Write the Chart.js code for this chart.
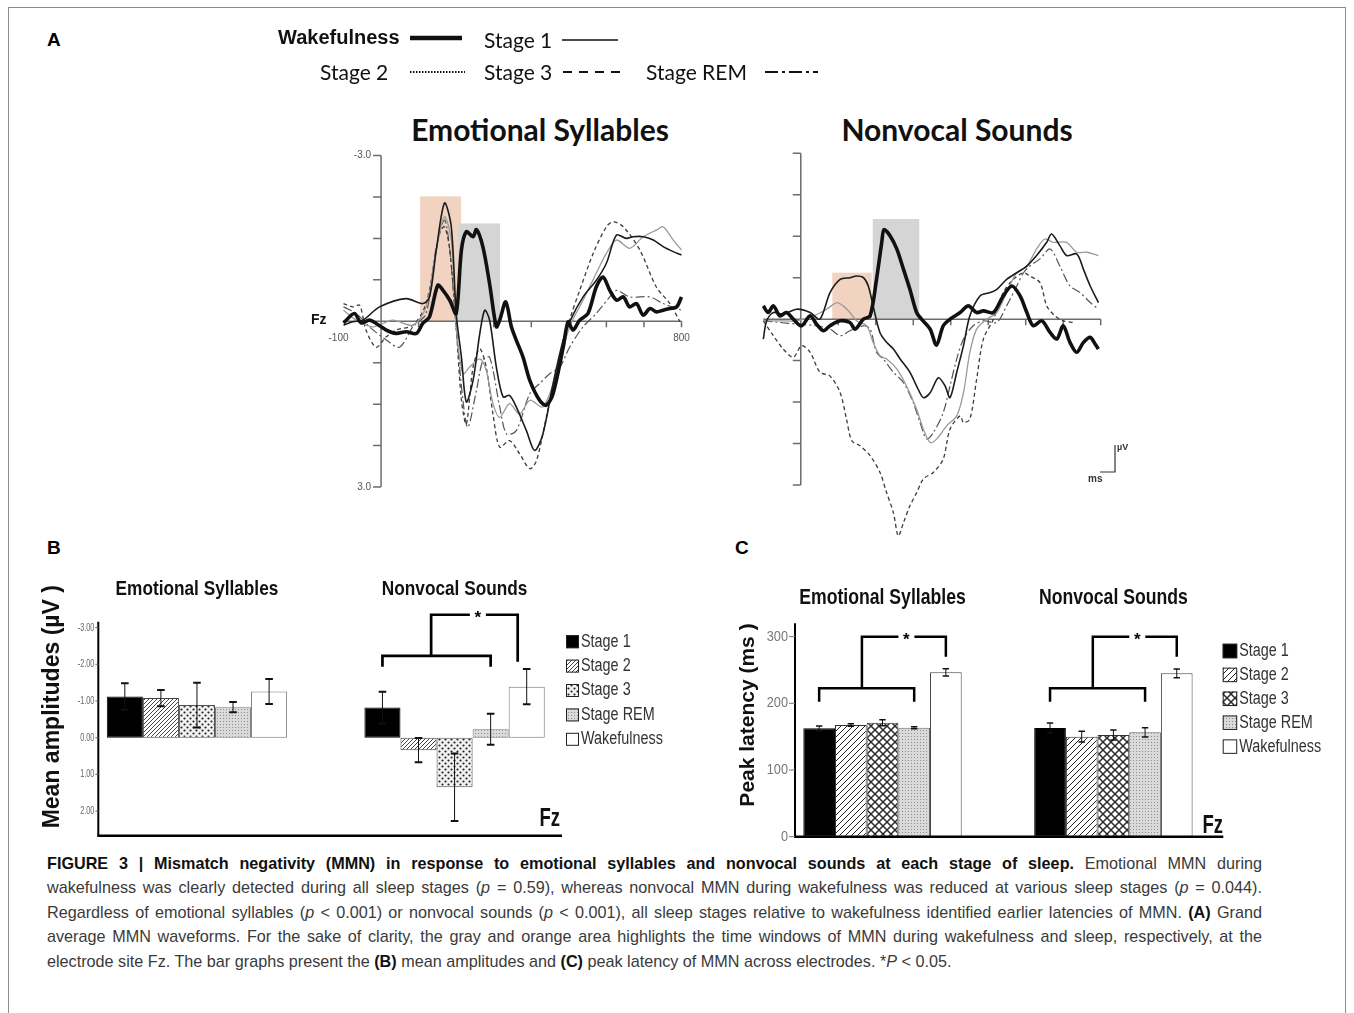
<!DOCTYPE html>
<html>
<head>
<meta charset="utf-8">
<title>Figure 3 - MMN across sleep stages</title>
<script src="https://cdn.jsdelivr.net/npm/chart.js@4.4.1/dist/chart.umd.min.js"></script>
<style>
  html, body { margin: 0; padding: 0; background: #fff; }
  body { position: relative; width: 1354px; height: 1013px; overflow: hidden; font-family: 'Liberation Sans', Arial, sans-serif; }
  #frame { position: absolute; left: 8px; top: 7px; width: 1336px; height: 1030px; border: 1px solid #8c8c8c; }
  canvas { position: absolute; }
  .panel { position: absolute; font-weight: bold; font-size: 19px; color: #000; }
  .title { position: absolute; font-family: Lato, sans-serif; font-weight: bold; font-size: 30px; transform: translate(-50%, -50%); white-space: nowrap; color: #111; }
  #caption { position: absolute; left: 47px; top: 851px; font-size: 16.2px; line-height: 24.4px; color: #3a3a3a; transform-origin: 0 0; }
  #caption div { white-space: nowrap; }
  #caption .j { text-align: justify; text-align-last: justify; }
  #caption b { color: #111; }
</style>
</head>
<body>
<div id="frame"></div>
<div class="panel" style="left:47px;top:29px">A</div>
<div class="panel" style="left:47px;top:537px">B</div>
<div class="panel" style="left:735px;top:537px">C</div>
<div class="title" style="left:540px;top:129px">Emotional Syllables</div>
<div class="title" style="left:957px;top:129px">Nonvocal Sounds</div>

<canvas id="erpEmo" width="570" height="500" style="left:260px;top:15px"></canvas>
<canvas id="erpNon" width="440" height="460" style="left:720px;top:100px"></canvas>
<canvas id="ampChart" width="670" height="280" style="left:30px;top:570px"></canvas>
<canvas id="latChart" width="630" height="280" style="left:715px;top:570px"></canvas>

<div id="caption">
<div class="cl"><b>FIGURE 3 | Mismatch negativity (MMN) in response to emotional syllables and nonvocal sounds at each stage of sleep.</b> Emotional MMN during</div>
<div class="cl">wakefulness was clearly detected during all sleep stages (<i>p</i> = 0.59), whereas nonvocal MMN during wakefulness was reduced at various sleep stages (<i>p</i> = 0.044).</div>
<div class="cl">Regardless of emotional syllables (<i>p</i> &lt; 0.001) or nonvocal sounds (<i>p</i> &lt; 0.001), all sleep stages relative to wakefulness identified earlier latencies of MMN. <b>(A)</b> Grand</div>
<div class="cl">average MMN waveforms. For the sake of clarity, the gray and orange area highlights the time windows of MMN during wakefulness and sleep, respectively, at the</div>
<div class="last">electrode site Fz. The bar graphs present the <b>(B)</b> mean amplitudes and <b>(C)</b> peak latency of MMN across electrodes. *<i>P</i> &lt; 0.05.</div>
</div>

<script>
// ---------- Panel A: grand average waveforms, [time ms, amplitude µV] ----------
const erpLabels = ['Wakefulness', 'Stage 1', 'Stage 2', 'Stage 3', 'Stage REM'];
const erpXTicks = [0, 100, 200, 300, 400, 500, 600, 700, 800];
const erpYTicks = [-3, -2.25, -1.5, -0.75, 0, 0.75, 1.5, 2.25, 3];

const emoWake = [[-100,0.03],[-71,-0.14],[-53,0.03],[-31,-0.02],[-13,0.04],[14,0.16],[40,0.22],[67,0.19],[94,0.22],[111,0.04],[129,-0.08],[151,-0.65],[165,-0.56],[183,-0.38],[200,-0.14],[214,-1.29],[227,-1.62],[245,-1.53],[254,-1.66],[271,-1.35],[289,-0.68],[307,0.10],[316,-0.02],[332,-0.35],[347,0.10],[360,0.34],[378,0.65],[396,1.07],[422,1.43],[440,1.52],[458,1.31],[485,0.47],[498,0.01],[511,0.16],[529,-0.02],[551,-0.14],[573,-0.62],[591,-0.80],[609,-0.56],[627,-0.38],[645,-0.44],[662,-0.26],[680,-0.32],[698,-0.11],[716,-0.23],[733,-0.17],[751,-0.20],[769,-0.23],[787,-0.26],[800,-0.44]];
const emoStage1 = [[-100,0.07],[-75,0.01],[-48,-0.02],[-4,-0.26],[67,-0.41],[111,-0.32],[129,-0.44],[147,-1.29],[169,-2.14],[187,-1.71],[200,-0.14],[214,0.65],[227,1.46],[245,1.07],[263,0.22],[276,-0.20],[289,-0.02],[307,0.83],[325,1.37],[342,1.34],[360,1.55],[387,1.98],[409,2.34],[431,2.04],[458,1.13],[485,0.34],[502,0.01],[538,-0.44],[573,-0.74],[600,-1.05],[627,-1.56],[653,-1.50],[671,-1.53],[698,-1.53],[725,-1.47],[751,-1.35],[778,-1.26],[800,-1.20]];
const emoStage2 = [[-100,-0.20],[-66,-0.02],[-22,0.10],[31,-0.02],[85,0.07],[120,-0.26],[147,-1.29],[169,-1.89],[187,-1.47],[200,0.10],[218,0.95],[236,0.83],[263,0.68],[280,0.89],[298,1.49],[316,1.74],[342,1.49],[369,1.68],[396,1.43],[431,1.55],[467,0.95],[502,0.10],[538,-0.38],[573,-0.87],[600,-1.23],[627,-1.47],[662,-1.32],[698,-1.53],[733,-1.65],[751,-1.71],[778,-1.47],[800,-1.29]];
const emoStage3 = [[-100,-0.32],[-75,-0.26],[-57,-0.29],[-40,0.16],[-13,0.47],[14,0.28],[40,0.16],[85,0.07],[120,-0.32],[156,-1.59],[169,-1.71],[183,-1.29],[200,0.10],[214,1.43],[227,1.86],[245,0.83],[263,0.50],[280,0.83],[298,1.68],[316,2.28],[342,2.16],[369,2.40],[396,2.67],[414,2.52],[440,1.74],[467,0.95],[502,-0.02],[529,-0.56],[565,-1.23],[600,-1.71],[618,-1.80],[645,-1.71],[689,-1.29],[733,-0.62],[769,-0.32],[796,0.01]];
const emoRem = [[-100,-0.26],[-66,-0.14],[-31,0.10],[14,0.34],[49,0.47],[85,0.10],[120,-0.14],[147,-1.35],[169,-1.83],[183,-1.29],[200,0.10],[218,1.43],[231,1.92],[254,1.25],[271,0.71],[289,0.65],[316,1.55],[334,2.04],[360,1.98],[396,1.31],[422,1.13],[449,0.95],[476,0.83],[502,0.47],[538,0.10],[573,-0.14],[609,-0.44],[627,-0.56],[662,-0.44],[716,-0.44],[751,-0.32],[800,-0.20]];

const nonWake = [[-100,-0.24],[-87,-0.12],[-73,-0.24],[-56,-0.06],[-38,-0.12],[-20,0],[2,0.12],[25,-0.06],[42,0.09],[60,0.21],[78,0.12],[105,0.03],[131,0.06],[145,0.18],[167,0],[185,-0.06],[202,-0.72],[216,-1.39],[222,-1.62],[238,-1.51],[256,-1.27],[274,-0.90],[291,-0.54],[309,-0.12],[322,0],[345,0.18],[362,0.47],[380,0.12],[398,0],[425,-0.12],[447,-0.24],[469,-0.12],[487,-0.15],[514,-0.12],[540,-0.42],[563,-0.60],[585,-0.42],[603,-0.12],[620,0.12],[643,0.03],[665,0.24],[683,0.36],[700,0.12],[718,0.42],[736,0.60],[754,0.42],[772,0.33],[785,0.45],[794,0.54]];
const nonStage1 = [[-100,0.36],[-91,0.03],[-73,-0.12],[-47,-0.09],[-11,-0.18],[25,-0.12],[51,0],[78,-0.48],[105,-0.72],[131,-0.75],[149,-0.78],[167,-0.75],[180,-0.60],[193,-0.24],[211,0.24],[229,0.42],[247,0.54],[265,0.72],[291,0.96],[309,1.21],[327,1.42],[345,1.33],[367,1.06],[385,1.21],[398,1.42],[416,0.96],[434,0.48],[451,-0.06],[478,-0.42],[505,-0.48],[523,-0.54],[549,-0.72],[576,-0.84],[603,-0.96],[629,-1.15],[656,-1.39],[669,-1.54],[691,-1.33],[709,-1.15],[736,-1.18],[754,-0.90],[772,-0.60],[794,-0.30]];
const nonStage2 = [[-100,0.03],[-56,0.03],[-11,0.03],[33,-0.06],[69,-0.18],[96,-0.30],[113,-0.24],[131,-0.12],[149,0.03],[176,0.12],[193,0.42],[211,0.66],[229,0.72],[256,0.90],[282,1.21],[309,1.63],[327,1.99],[345,2.23],[362,2.17],[389,1.93],[416,1.75],[434,1.33],[451,0.60],[469,0.18],[496,0],[523,-0.12],[549,-0.48],[576,-0.84],[603,-0.96],[629,-1.27],[651,-1.45],[674,-1.39],[709,-1.39],[736,-1.21],[763,-1.21],[794,-1.15]];
const nonStage3 = [[-100,0.03],[-73,0.30],[-47,0.54],[-20,0.69],[2,0.48],[25,0.60],[51,0.96],[78,1.03],[105,1.33],[122,1.81],[136,2.20],[158,2.29],[185,2.47],[211,2.77],[229,3.14],[247,3.50],[260,3.92],[274,3.68],[291,3.38],[309,3.14],[327,2.89],[354,2.77],[380,2.53],[398,1.99],[425,1.75],[434,1.87],[451,1.81],[469,1.09],[487,0.36],[514,0],[540,-0.48],[567,-0.72],[594,-0.84],[611,-0.78],[638,-0.66],[656,-0.24],[678,-0.06],[700,0.03],[727,0.06]];
const nonRem = [[-100,0.03],[-56,0.06],[-11,0.09],[42,0.12],[78,0.18],[105,0.30],[131,0.21],[167,0.12],[185,0.18],[202,0.60],[220,0.72],[247,0.96],[274,1.15],[300,1.51],[318,1.87],[336,2.17],[354,2.05],[380,1.69],[398,1.21],[416,0.72],[434,0.36],[460,0.12],[487,0.03],[523,0.06],[549,-0.24],[576,-0.60],[594,-0.84],[611,-0.96],[638,-1.09],[665,-1.27],[691,-0.96],[718,-0.60],[745,-0.48],[772,-0.30],[794,-0.18]];

// MMN windows: [start ms, end ms, top µV]
const emoSleepWin = [104, 213, -2.26];
const emoWakeWin = [205, 317, -1.77];
const nonSleepWin = [84, 189, -0.84];
const nonWakeWin = [192, 316, -1.81];

// ---------- Panels B and C ----------
const groups = ['Emotional Syllables', 'Nonvocal Sounds'];
const stages = ['Stage 1', 'Stage 2', 'Stage 3', 'Stage REM', 'Wakefulness'];
const ampEmo = [-1.12, -1.08, -0.89, -0.83, -1.26];
const ampEmoErr = [0.36, 0.22, 0.61, 0.14, 0.34];
const ampNon = [-0.82, 0.34, 1.35, -0.23, -1.39];
const ampNonErr = [0.43, 0.33, 0.92, 0.42, 0.48];
const latEmo = [162.5, 167.5, 171, 163.5, 246.5];
const latEmoErr = [3.5, 2, 4.5, 1.5, 5.5];
const latNon = [163, 150, 152.5, 156.5, 245];
const latNonErr = [7.5, 8, 7.5, 7, 6.5];
const ampTicks = [-3, -2, -1, 0, 1, 2];
const latTicks = [0, 100, 200, 300];

// line looks of the five waveforms (same order as erpLabels)
const erpStyles = [
  { borderColor: '#111', borderWidth: 3.6 },
  { borderColor: '#1c1c1c', borderWidth: 1.6 },
  { borderColor: '#9a9a9a', borderWidth: 1.3 },
  { borderColor: '#3c3c3c', borderWidth: 1.3, borderDash: [4, 3] },
  { borderColor: '#555', borderWidth: 1.2, borderDash: [9, 3, 2, 3] }
];

function squeezeText(ctx, text, x, y, font, sx, align, color) {
  ctx.save();
  ctx.translate(x, y);
  ctx.scale(sx, 1);
  ctx.font = font;
  ctx.fillStyle = color;
  ctx.textAlign = align;
  ctx.textBaseline = 'middle';
  ctx.fillText(text, 0, 0);
  ctx.restore();
}

const erpDecor = {
  id: 'erpDecor',
  beforeDatasetsDraw(chart, args, o) {
    const { ctx } = chart;
    const x = chart.scales.x, y = chart.scales.y;
    const x0 = x.getPixelForValue(0), y0 = y.getPixelForValue(0);
    ctx.save();
    o.windows.forEach(w => {
      const x1 = x.getPixelForValue(w.span[0]), x2 = x.getPixelForValue(w.span[1]);
      const y1 = y.getPixelForValue(w.span[2]);
      ctx.fillStyle = w.color;
      ctx.fillRect(x1, y1, x2 - x1, y0 - y1);
    });
    ctx.strokeStyle = '#6c6c6c';
    ctx.lineWidth = 1.5;
    ctx.beginPath();
    ctx.moveTo(x0, y.getPixelForValue(-3));
    ctx.lineTo(x0, y.getPixelForValue(3));
    erpYTicks.forEach(v => {
      const py = y.getPixelForValue(v);
      ctx.moveTo(x0 - 8, py);
      ctx.lineTo(x0, py);
    });
    ctx.moveTo(x.getPixelForValue(-100), y0);
    ctx.lineTo(x.getPixelForValue(800), y0);
    erpXTicks.forEach(t => {
      const px = x.getPixelForValue(t);
      ctx.moveTo(px, y0);
      ctx.lineTo(px, y0 + 6);
    });
    ctx.stroke();

    if (o.labels) {
      squeezeText(ctx, '-3.0', x0 - 10, y.getPixelForValue(-3), '10px Liberation Sans', 1, 'right', '#555');
      squeezeText(ctx, '3.0', x0 - 10, y.getPixelForValue(3), '10px Liberation Sans', 1, 'right', '#555');
      squeezeText(ctx, '-100', x.getPixelForValue(-100) - 5, y0 + 17, '10px Liberation Sans', 1, 'center', '#555');
      squeezeText(ctx, '800', x.getPixelForValue(800), y0 + 17, '10px Liberation Sans', 1, 'center', '#555');
      squeezeText(ctx, 'Fz', x.getPixelForValue(-100) - 17, y0 - 1, 'bold 14px Liberation Sans', 1, 'right', '#111');
    }
    ctx.restore();
  },
  afterDraw(chart, args, o) {
    const { ctx } = chart;
    ctx.save();
    if (o.legend) {
      o.legend.forEach(item => {
        const ds = chart.data.datasets[item.i];
        const font = item.bold ? 'bold 20px Liberation Sans' : '21px Lato';
        squeezeText(ctx, ds.label, item.tx, item.ty, font, 1, 'left', '#111');
        ctx.strokeStyle = '#111';
        ctx.lineWidth = item.w;
        ctx.setLineDash(item.dash);
        ctx.beginPath();
        ctx.moveTo(item.x1, item.ly);
        ctx.lineTo(item.x2, item.ly);
        ctx.stroke();
      });
      ctx.setLineDash([]);
    }
    if (o.scaleBar) {
      const s = o.scaleBar;
      ctx.strokeStyle = '#333';
      ctx.lineWidth = 1.2;
      ctx.beginPath();
      ctx.moveTo(s.x, s.y);
      ctx.lineTo(s.x, s.y + s.h);
      ctx.lineTo(s.x - s.w, s.y + s.h);
      ctx.stroke();
      squeezeText(ctx, 'µV', s.x + 2, s.y + 3, 'bold 9px Liberation Sans', 1, 'left', '#333');
      squeezeText(ctx, 'ms', s.x - s.w - 12, s.y + s.h + 7, 'bold 10px Liberation Sans', 1, 'left', '#333');
    }
    ctx.restore();
  }
};

function makeErp(id, series, windows, padding, extra) {
  const toPoints = arr => arr.map(([t, v]) => ({ x: t, y: v }));
  return new Chart(document.getElementById(id), {
    type: 'line',
    data: {
      datasets: series.map((s, i) => Object.assign({
        label: erpLabels[i],
        data: toPoints(s),
        pointRadius: 0,
        tension: 0.3,
        fill: false,
        clip: false
      }, erpStyles[i]))
    },
    options: {
      responsive: false,
      animation: false,
      events: [],
      layout: { padding },
      plugins: {
        legend: { display: false },
        tooltip: { enabled: false },
        erpDecor: Object.assign({ windows }, extra)
      },
      scales: {
        x: { type: 'linear', display: false, min: -100, max: 800 },
        y: { type: 'linear', display: false, min: -3, max: 3, reverse: true }
      }
    },
    plugins: [erpDecor]
  });
}

makeErp('erpEmo', [emoWake, emoStage1, emoStage2, emoStage3, emoRem],
  [{ span: emoSleepWin, color: '#f2d3c1' }, { span: emoWakeWin, color: '#d5d5d5' }],
  { left: 83.5, right: 148.5, top: 140.5, bottom: 28 },
  {
    labels: true,
    legend: [
      { i: 0, bold: true, tx: 18, ty: 23, x1: 150, x2: 202, ly: 23, w: 4.5, dash: [] },
      { i: 1, tx: 224, ty: 26, x1: 302, x2: 358, ly: 25, w: 1.5, dash: [] },
      { i: 2, tx: 60, ty: 58, x1: 150, x2: 205, ly: 57, w: 1.8, dash: [1.5, 1.5] },
      { i: 3, tx: 224, ty: 58, x1: 303, x2: 360, ly: 57, w: 2, dash: [9, 7] },
      { i: 4, tx: 386, ty: 58, x1: 505, x2: 558, ly: 57, w: 2, dash: [13, 4, 3, 4] }
    ]
  });

makeErp('erpNon', [nonWake, nonStage1, nonStage2, nonStage3, nonRem],
  [{ span: nonSleepWin, color: '#f2d3c1' }, { span: nonWakeWin, color: '#d5d5d5' }],
  { left: 43.3, right: 59.3, top: 53.3, bottom: 75 },
  { labels: false, scaleBar: { x: 395, y: 345, h: 27, w: 15 } });

// ---------- bar fills ----------
function tile(ctx, w, h, draw) {
  const c = document.createElement('canvas');
  c.width = w; c.height = h;
  const g = c.getContext('2d');
  draw(g, w, h);
  return ctx.createPattern(c, 'repeat');
}

function stageFills(canvasId, dense) {
  const ctx = document.getElementById(canvasId).getContext('2d');
  const hatch = tile(ctx, dense ? 4 : 6, dense ? 4 : 6, (g, w, h) => {
    g.fillStyle = '#fff'; g.fillRect(0, 0, w, h);
    g.strokeStyle = dense ? '#444' : '#222'; g.lineWidth = 1;
    g.beginPath();
    g.moveTo(0, h); g.lineTo(w, 0);
    g.moveTo(-1, 1); g.lineTo(1, -1);
    g.moveTo(w - 1, h + 1); g.lineTo(w + 1, h - 1);
    g.stroke();
  });
  const dots = dense
    ? tile(ctx, 6, 6, (g) => {
        g.fillStyle = '#f2f2f2'; g.fillRect(0, 0, 6, 6);
        g.fillStyle = '#222';
        g.beginPath(); g.arc(1.5, 1.5, 1.1, 0, Math.PI * 2); g.arc(4.5, 4.5, 1.1, 0, Math.PI * 2); g.fill();
      })
    : tile(ctx, 8, 8, (g) => {
        g.fillStyle = '#fff'; g.fillRect(0, 0, 8, 8);
        g.strokeStyle = '#2a2a2a'; g.lineWidth = 1.5;
        g.beginPath();
        g.moveTo(0, 0); g.lineTo(8, 8); g.moveTo(8, 0); g.lineTo(0, 8);
        g.stroke();
      });
  const stipple = tile(ctx, 3, 3, (g) => {
    g.fillStyle = '#dadada'; g.fillRect(0, 0, 3, 3);
    g.fillStyle = '#8c8c8c'; g.fillRect(1, 1, 1, 1);
  });
  return ['#000', hatch, dots, stipple, '#fff'];
}

const barDecor = {
  id: 'barDecor',
  afterDatasetsDraw(chart, args, o) {
    const { ctx, chartArea: a } = chart;
    const x = chart.scales.x, y = chart.scales.y;
    ctx.save();

    // error bars
    chart.data.datasets.forEach((ds, i) => {
      chart.getDatasetMeta(i).data.forEach((bar, j) => {
        const v = ds.data[j].y, e = ds.err[j];
        const y1 = y.getPixelForValue(v - e), y2 = y.getPixelForValue(v + e);
        ctx.strokeStyle = '#111';
        ctx.lineWidth = 1;
        ctx.beginPath(); ctx.moveTo(bar.x, y1); ctx.lineTo(bar.x, y2); ctx.stroke();
        ctx.lineWidth = o.capWidth;
        ctx.beginPath();
        ctx.moveTo(bar.x - o.cap, y1); ctx.lineTo(bar.x + o.cap, y1);
        ctx.moveTo(bar.x - o.cap, y2); ctx.lineTo(bar.x + o.cap, y2);
        ctx.stroke();
      });
    });

    // axes
    ctx.strokeStyle = '#000';
    ctx.lineWidth = 2;
    ctx.beginPath(); ctx.moveTo(a.left, a.top); ctx.lineTo(a.left, a.bottom); ctx.stroke();
    ctx.lineWidth = 2.6;
    ctx.beginPath(); ctx.moveTo(a.left - 1, a.bottom); ctx.lineTo(a.right, a.bottom); ctx.stroke();
    o.ticks.forEach(v => {
      const py = y.getPixelForValue(v);
      ctx.strokeStyle = o.tickColor;
      ctx.lineWidth = 1;
      ctx.beginPath(); ctx.moveTo(a.left - o.tickLen, py); ctx.lineTo(a.left, py); ctx.stroke();
      squeezeText(ctx, o.tickFormat(v), a.left - o.tickLen - 1, py, o.tickFont, o.tickScale, 'right', o.tickColor);
    });

    // group titles
    groups.forEach((g, i) => squeezeText(ctx, g, x.getPixelForValue(i), o.titleY, o.titleFont, o.titleScale, 'center', '#111'));

    // significance brackets
    const b = o.bracket;
    b.groups.forEach(j => {
      const bar = i => chart.getDatasetMeta(i).data[j];
      const xa = bar(0).x, xb = bar(3).x;
      const xw = bar(4).x + b.dropShift * bar(4).width;
      const xs = xa + (xb - xa) * b.stem;
      const xStar = xs + (xw - xs) * b.star;
      const yArm = y.getPixelForValue(b.arm), yTick = y.getPixelForValue(b.tick);
      const yTop = y.getPixelForValue(b.top), yDrop = y.getPixelForValue(b.drop);
      ctx.strokeStyle = '#000';
      ctx.lineWidth = b.width;
      ctx.lineJoin = 'miter';
      ctx.beginPath();
      ctx.moveTo(xa, yTick); ctx.lineTo(xa, yArm); ctx.lineTo(xb, yArm); ctx.lineTo(xb, yTick);
      ctx.moveTo(xs, yArm); ctx.lineTo(xs, yTop); ctx.lineTo(xStar - 8, yTop);
      ctx.moveTo(xStar + 8, yTop); ctx.lineTo(xw, yTop); ctx.lineTo(xw, yDrop);
      ctx.stroke();
      squeezeText(ctx, '*', xStar, yTop + 4, 'bold 17px Liberation Sans', 1, 'center', '#000');
    });

    // legend
    const lg = o.legend;
    chart.data.datasets.forEach((ds, i) => {
      const cy = lg.y + i * lg.dy;
      ctx.fillStyle = ds.backgroundColor;
      ctx.fillRect(lg.x, cy - lg.size / 2, lg.size, lg.size);
      ctx.strokeStyle = '#222';
      ctx.lineWidth = 1;
      ctx.strokeRect(lg.x + 0.5, cy - lg.size / 2 + 0.5, lg.size - 1, lg.size - 1);
      squeezeText(ctx, ds.label, lg.x + lg.size + 2, cy, '18px Liberation Sans', 0.8, 'left', '#333');
    });

    // electrode tag and y title
    squeezeText(ctx, 'Fz', o.fz.x, o.fz.y, 'bold 25px Liberation Sans', 0.74, 'right', '#111');
    ctx.save();
    ctx.translate(o.yTitle.x, o.yTitle.y);
    ctx.rotate(-Math.PI / 2);
    squeezeText(ctx, o.yTitle.text, 0, 0, o.yTitle.font, 1, 'center', '#111');
    ctx.restore();

    ctx.restore();
  }
};

function makeBars(id, emo, emoErr, non, nonErr, fills, borders, scaleOpts, padding, catPct, decor) {
  return new Chart(document.getElementById(id), {
    type: 'bar',
    data: {
      datasets: stages.map((s, i) => ({
        label: s,
        data: [{ x: 0, y: emo[i] }, { x: 1, y: non[i] }],
        err: [emoErr[i], nonErr[i]],
        backgroundColor: fills[i],
        borderColor: borders[i],
        borderWidth: 1,
        borderSkipped: false,
        categoryPercentage: catPct,
        barPercentage: 1
      }))
    },
    options: {
      responsive: false,
      animation: false,
      events: [],
      layout: { padding },
      plugins: { legend: { display: false }, tooltip: { enabled: false }, barDecor: decor },
      scales: {
        x: {
          type: 'linear', display: false, offset: false,
          min: scaleOpts.xMin, max: scaleOpts.xMax,
          afterBuildTicks: s => { s.ticks = groups.map((g, i) => ({ value: i })); }
        },
        y: { type: 'linear', display: false, min: scaleOpts.yMin, max: scaleOpts.yMax, reverse: scaleOpts.reverse }
      }
    },
    plugins: [barDecor]
  });
}

makeBars('ampChart', ampEmo, ampEmoErr, ampNon, ampNonErr,
  stageFills('ampChart', true), ['#000', '#444', '#555', '#777', '#777'],
  { xMin: -0.383, xMax: 1.417, yMin: -3.16, yMax: 2.67, reverse: true },
  { left: 68.3, right: 138, top: 51.7, bottom: 14.3 }, 0.70,
  {
    cap: 3.8, capWidth: 2,
    ticks: ampTicks, tickLen: 3, tickColor: '#666', tickFont: '11px Liberation Sans', tickScale: 0.66,
    tickFormat: v => v.toFixed(2),
    titleY: 19, titleFont: 'bold 21px Liberation Sans', titleScale: 0.82,
    bracket: { groups: [1], arm: -2.23, tick: -1.93, top: -3.35, drop: -2.07, stem: 0.45, dropShift: -0.25, star: 0.54, width: 2.7 },
    legend: { x: 536, y: 71.7, dy: 24.4, size: 13 },
    fz: { x: 530, y: 249 },
    yTitle: { text: 'Mean amplitudes (µV )', x: 22.5, y: 136.7, font: 'bold 23px Liberation Sans' }
  });

makeBars('latChart', latEmo, latEmoErr, latNon, latNonErr,
  stageFills('latChart', false), ['#000', '#333', '#333', '#666', '#444'],
  { xMin: -0.379, xMax: 1.476, yMin: 0, yMax: 320, reverse: false },
  { left: 80, right: 121.7, top: 53.3, bottom: 13.3 }, 0.686,
  {
    cap: 3.2, capWidth: 1.5,
    ticks: latTicks, tickLen: 6, tickColor: '#777', tickFont: '15px Liberation Sans', tickScale: 0.85,
    tickFormat: v => String(v),
    titleY: 28, titleFont: 'bold 21.5px Liberation Sans', titleScale: 0.82,
    bracket: { groups: [0, 1], arm: 222.5, tick: 202.5, top: 300, drop: 270, stem: 0.45, dropShift: 0, star: 0.53, width: 2.5 },
    legend: { x: 507.7, y: 81, dy: 23.9, size: 14.5 },
    fz: { x: 508, y: 256 },
    yTitle: { text: 'Peak latency (ms )', x: 33, y: 145, font: 'bold 21px Liberation Sans' }
  });

// ---------- caption: fit the justified lines to the column ----------
(function fitCaption() {
  const box = document.getElementById('caption');
  const target = 1215;
  const lines = Array.from(box.children);
  const widest = Math.max(...lines.map(d => {
    const r = document.createRange();
    r.selectNodeContents(d);
    return r.getBoundingClientRect().width;
  }));
  const k = widest > target ? target / widest : 1;
  box.style.transform = 'scaleX(' + k + ')';
  lines.forEach(d => {
    if (d.classList.contains('cl')) {
      d.classList.add('j');
      d.style.width = (target / k) + 'px';
    }
  });
})();
</script>
</body>
</html>
